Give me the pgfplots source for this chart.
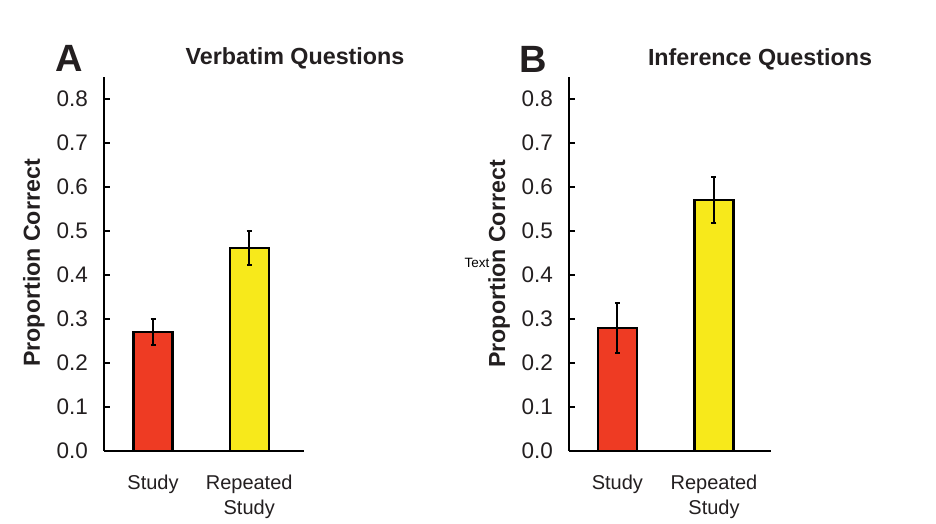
\documentclass[border=0pt]{standalone}
\usepackage{pgfplots}
\pgfplotsset{compat=1.18}
\usepackage{fontspec}
\setmainfont{Liberation Sans}
\definecolor{barred}{RGB}{238,59,35}
\definecolor{baryellow}{RGB}{247,233,27}
\definecolor{txt}{RGB}{35,31,32}
\pgfplotsset{panel/.style={
  scale only axis, width=200pt, height=374.4pt, anchor=south west,
  xmin=-0.51, xmax=1.57, ymin=0, ymax=0.85,
  axis x line=bottom, axis y line=left,
  axis line style={-, line width=2.2pt, black},
  ybar, bar width=39pt, bar shift=0pt,
  ytick={0,0.1,0.2,0.3,0.4,0.5,0.6,0.7,0.8},
  xtick={0,1}, xticklabels={Study,{Repeated\\Study}},
  /pgf/number format/assume math mode=true,
  yticklabel={\pgfmathprintnumber[fixed,fixed zerofill,precision=1]{\tick}},
  yticklabel style={font=\fontsize{22.5}{25}\selectfont, text=txt, xshift=-12.5pt},
  xticklabel style={font=\fontsize{20}{25}\selectfont, text=txt, align=center, yshift=-20pt},
  tick align=inside, major tick length=5.5pt,
  ytick style={line width=2pt, black},
  xtick style={draw=none},
  error bars/y dir=both, error bars/y explicit,
  error bars/error bar style={line width=2pt, black},
  error bars/error mark options={line width=2pt, black, mark size=2.5pt, rotate=90},
}}
\begin{document}
\begin{tikzpicture}
\useasboundingbox (0,0) rectangle (936pt,524pt);
\fill[white] (0,0) rectangle (936pt,524pt);
\begin{axis}[panel, at={(104pt,73pt)}]
\addplot[fill=barred, draw=black, line width=2.2pt] coordinates {(0,0.27) +- (0,0.029)};
\addplot[fill=baryellow, draw=black, line width=2.2pt] coordinates {(1,0.46) +- (0,0.0385)};
\end{axis}
\begin{axis}[panel, at={(569pt,73pt)}, width=202pt, xmin=-0.50, xmax=1.59]
\addplot[fill=barred, draw=black, line width=2.2pt] coordinates {(0,0.28) +- (0,0.057)};
\addplot[fill=baryellow, draw=black, line width=2.2pt] coordinates {(1,0.57) +- (0,0.052)};
\end{axis}
\node[font=\fontsize{38}{38}\selectfont\bfseries, text=txt] at (69pt,466pt) {A};
\node[font=\fontsize{23.3}{24}\selectfont\bfseries, text=txt] at (295pt,466pt) {Verbatim Questions};
\node[font=\fontsize{38}{38}\selectfont\bfseries, text=txt] at (533pt,465pt) {B};
\node[font=\fontsize{23.3}{24}\selectfont\bfseries, text=txt] at (760pt,465pt) {Inference Questions};
\node[font=\fontsize{23.2}{24}\selectfont\bfseries, text=txt, rotate=90] at (34pt,261pt) {Proportion Correct};
\node[font=\fontsize{23.2}{24}\selectfont\bfseries, text=txt, rotate=90] at (499pt,260pt) {Proportion Correct};
\node[font=\fontsize{13.5}{14}\selectfont, text=black] at (477pt,261pt) {Text};
\end{tikzpicture}
\end{document}
